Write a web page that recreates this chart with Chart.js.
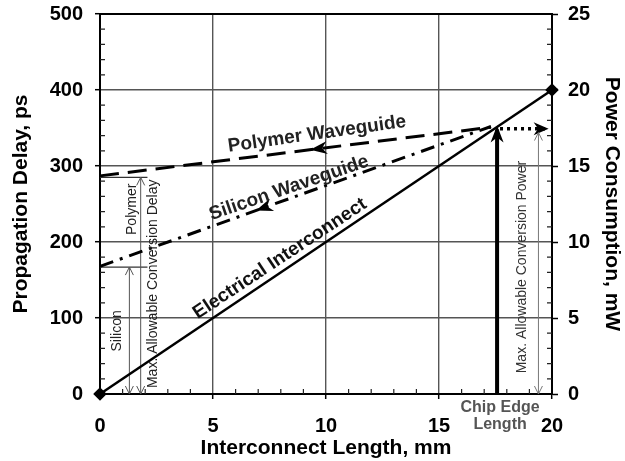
<!DOCTYPE html>
<html><head><meta charset="utf-8">
<script src="https://cdn.jsdelivr.net/npm/chart.js@4.4.0/dist/chart.umd.min.js"></script>
<style>html,body{margin:0;padding:0;background:#fff}#wrap{width:625px;height:461px}</style>
</head><body><div id="wrap"><canvas id="c" width="625" height="461"></canvas></div>
<script>
// ---- data ----
const lengthTicks = [0, 5, 10, 15, 20];          // mm
const delayTicks = [0, 100, 200, 300, 400, 500]; // ps
const powerTicks = [0, 5, 10, 15, 20, 25];       // mW
const electricalX = [0, 20];
const electricalY = [0, 400];
const polymerX = [0, 17.3];
const polymerY = [287, 351];
const siliconX = [0, 17.3];
const siliconY = [168, 352];
const chipEdgeX = [17.57, 17.57];
const chipEdgeY = [0, 348];
const powerLimitX = [17.7, 19.85];
const powerLimitY = [349, 349];
const siliconDelay = 167;    // ps (max allowable conversion delay, silicon)
const polymerDelay = 285;    // ps (polymer)
const maxPowerMW = 17.2;     // mW
const siliconDelayArrowX = 1.3;
const polymerDelayArrowX = 1.8;
const powerArrowX = 19.4;
const delayMarkLen = [0, 2.1];

const FONT = "'Liberation Sans', Arial, sans-serif";

function pts(xs, ys) { return xs.map((x, i) => ({x, y: ys[i]})); }

const lineDefaults = {showLine: true, pointRadius: 0, clip: false, fill: false, borderColor: '#000', tension: 0};

const datasets = [
  Object.assign({}, lineDefaults, {label: 'Electrical', data: pts(electricalX, electricalY), borderWidth: 2.5,
    pointRadius: 5, pointStyle: 'rectRot', pointBackgroundColor: '#000', pointBorderColor: '#000'}),
  Object.assign({}, lineDefaults, {label: 'Polymer', data: pts(polymerX, polymerY), borderWidth: 3, borderDash: [19, 9]}),
  Object.assign({}, lineDefaults, {label: 'Silicon', data: pts(siliconX, siliconY), borderWidth: 3, borderDash: [14, 7, 3, 7]}),
  Object.assign({}, lineDefaults, {label: 'ChipEdge', data: pts(chipEdgeX, chipEdgeY), borderWidth: 4}),
  Object.assign({}, lineDefaults, {label: 'PowerLimit', data: pts(powerLimitX, powerLimitY), borderWidth: 3.5, borderDash: [3, 4]}),
  Object.assign({}, lineDefaults, {label: 'SiDelay', data: pts([siliconDelayArrowX, siliconDelayArrowX], [0, siliconDelay]), borderWidth: 1, borderColor: '#555'}),
  Object.assign({}, lineDefaults, {label: 'PolyDelay', data: pts([polymerDelayArrowX, polymerDelayArrowX], [0, polymerDelay]), borderWidth: 1, borderColor: '#555'}),
  Object.assign({}, lineDefaults, {label: 'SiMark', data: pts(delayMarkLen, [siliconDelay, siliconDelay]), borderWidth: 1.2, borderColor: '#333'}),
  Object.assign({}, lineDefaults, {label: 'PolyMark', data: pts(delayMarkLen, [polymerDelay, polymerDelay]), borderWidth: 1.2, borderColor: '#333'}),
  Object.assign({}, lineDefaults, {label: 'PowerArrow', yAxisID: 'y2', data: pts([powerArrowX, powerArrowX], [0, maxPowerMW]), borderWidth: 1, borderColor: '#777'})
];

const texts = [
  {t: 'Polymer Waveguide', x: 9.6, y: 342, a: -8, f: 'bold 19px ' + FONT, c: '#222'},
  {t: 'Silicon Waveguide', x: 8.36, y: 271, a: -19, f: 'bold 19px ' + FONT, c: '#222'},
  {t: 'Electrical Interconnect', x: 7.96, y: 178, a: -33.5, f: 'bold 19px ' + FONT, c: '#111'},
  {t: 'Silicon', x: 0.75, y: 83, a: -90, f: '14px ' + FONT, c: '#222'},
  {t: 'Polymer', x: 1.42, y: 243, a: -90, f: '14px ' + FONT, c: '#222'},
  {t: 'Max. Allowable Conversion Delay', x: 2.35, y: 145, a: -90, f: '14px ' + FONT, c: '#222'},
  {t: 'Max. Allowable Conversion Power', x: 18.67, y: 167, a: -90, f: '14px ' + FONT, c: '#333'}
];

function filledArrow(ctx, x, y, ang, len, hw) {
  ctx.save(); ctx.translate(x, y); ctx.rotate(ang);
  ctx.beginPath(); ctx.moveTo(0, 0); ctx.lineTo(-len, -hw); ctx.lineTo(-len * 0.7, 0); ctx.lineTo(-len, hw); ctx.closePath();
  ctx.fillStyle = '#000'; ctx.fill(); ctx.restore();
}
function openArrow(ctx, x, y, ang, len, hw, color) {
  ctx.save(); ctx.translate(x, y); ctx.rotate(ang);
  ctx.beginPath(); ctx.moveTo(-len, -hw); ctx.lineTo(0, 0); ctx.lineTo(-len, hw);
  ctx.strokeStyle = color; ctx.lineWidth = 1; ctx.stroke(); ctx.restore();
}

const decor = {
  id: 'decor',
  afterDatasetsDraw(chart) {
    const {ctx, chartArea: ca, scales: {x, y, y2}} = chart;
    ctx.save();
    // top border
    ctx.strokeStyle = '#000'; ctx.lineWidth = 2;
    ctx.beginPath(); ctx.moveTo(ca.left - 1, ca.top); ctx.lineTo(ca.right + 1, ca.top); ctx.stroke();
    // minor ticks
    ctx.lineWidth = 1.2; ctx.strokeStyle = '#222';
    ctx.beginPath();
    for (let v = 1; v < 20; v++) { if (v % 5) { const px = x.getPixelForValue(v); ctx.moveTo(px, ca.bottom); ctx.lineTo(px, ca.bottom - 5); } }
    for (let v = 20; v < 500; v += 20) { if (v % 100) { const py = y.getPixelForValue(v); ctx.moveTo(ca.left, py); ctx.lineTo(ca.left + 5, py); } }
    for (let v = 1; v < 25; v++) { if (v % 5) { const py = y2.getPixelForValue(v); ctx.moveTo(ca.right, py); ctx.lineTo(ca.right - 5, py); } }
    ctx.stroke();
    // arrowheads along waveguide lines (pointing back toward x=0)
    const along = (xs, ys, xv) => {
      const x0 = x.getPixelForValue(xs[0]), y0 = y.getPixelForValue(ys[0]);
      const x1 = x.getPixelForValue(xs[1]), y1 = y.getPixelForValue(ys[1]);
      const t = (xv - xs[0]) / (xs[1] - xs[0]);
      return {px: x0 + t * (x1 - x0), py: y0 + t * (y1 - y0), ang: Math.atan2(y0 - y1, x0 - x1)};
    };
    let a = along(polymerX, polymerY, 9.3);
    filledArrow(ctx, a.px, a.py, a.ang, 17, 6.5);
    a = along(siliconX, siliconY, 6.9);
    filledArrow(ctx, a.px, a.py, a.ang, 17, 6.5);
    // chip edge arrow (up)
    filledArrow(ctx, x.getPixelForValue(chipEdgeX[1]), y.getPixelForValue(chipEdgeY[1]) - 4, -Math.PI / 2, 17, 6.5);
    // power limit arrow (right)
    filledArrow(ctx, x.getPixelForValue(powerLimitX[1]), y.getPixelForValue(powerLimitY[1]), 0, 15, 6.5);
    // thin double arrows
    const dbl = (xv, ytop, scale, color) => {
      const px = x.getPixelForValue(xv);
      openArrow(ctx, px, scale.getPixelForValue(ytop), -Math.PI / 2, 8, 4, color);
      openArrow(ctx, px, scale.getPixelForValue(0), Math.PI / 2, 8, 4, color);
    };
    dbl(siliconDelayArrowX, siliconDelay, y, '#555');
    dbl(polymerDelayArrowX, polymerDelay, y, '#555');
    dbl(powerArrowX, maxPowerMW, y2, '#777');
    // texts
    ctx.textAlign = 'center'; ctx.textBaseline = 'middle';
    for (const o of texts) {
      ctx.save();
      ctx.translate(x.getPixelForValue(o.x), y.getPixelForValue(o.y));
      ctx.rotate(o.a * Math.PI / 180);
      ctx.font = o.f; ctx.fillStyle = o.c;
      ctx.fillText(o.t, 0, 0);
      ctx.restore();
    }
    // chip edge label below axis
    ctx.font = 'bold 16px ' + FONT; ctx.fillStyle = '#555';
    const cx = x.getPixelForValue(chipEdgeX[0]) + 3;
    ctx.fillText('Chip Edge', cx, ca.bottom + 14);
    ctx.fillText('Length', cx, ca.bottom + 31);
    ctx.restore();
  }
};

const tickFont = {family: FONT, size: 20, weight: 'bold'};
const titleFont = {family: FONT, size: 21, weight: 'bold'};

new Chart(document.getElementById('c'), {
  type: 'scatter',
  data: {datasets},
  options: {
    responsive: false, animation: false, devicePixelRatio: 1,
    layout: {padding: {top: 14, left: 0, right: 0, bottom: 0}},
    plugins: {legend: {display: false}, tooltip: {enabled: false}},
    scales: {
      x: {
        type: 'linear', position: 'bottom', min: lengthTicks[0], max: lengthTicks[lengthTicks.length - 1],
        afterBuildTicks(s) { s.ticks = lengthTicks.map(v => ({value: v})); },
        ticks: {font: tickFont, color: '#000', padding: 15, maxRotation: 0},
        grid: {color: '#555', lineWidth: 1.4, tickLength: 5, tickColor: '#000', tickWidth: 1.5},
        border: {color: '#000', width: 2},
        title: {display: true, text: 'Interconnect Length, mm', font: titleFont, color: '#000', padding: {top: 0, bottom: 0}},
        afterFit(s) { s.height = 67; s.paddingLeft = 0; s.paddingRight = 0; }
      },
      y: {
        type: 'linear', position: 'left', min: delayTicks[0], max: delayTicks[delayTicks.length - 1],
        afterBuildTicks(s) { s.ticks = delayTicks.map(v => ({value: v})); },
        ticks: {font: tickFont, color: '#000', padding: 12},
        grid: {color: '#555', lineWidth: 1.4, tickLength: 5, tickColor: '#000', tickWidth: 1.5},
        border: {color: '#000', width: 2},
        title: {display: true, text: 'Propagation Delay, ps', font: titleFont, color: '#000', padding: {top: 9, bottom: 0}},
        afterFit(s) { s.width = 100; s.paddingTop = 0; s.paddingBottom = 0; }
      },
      y2: {
        type: 'linear', position: 'right', min: powerTicks[0], max: powerTicks[powerTicks.length - 1],
        afterBuildTicks(s) { s.ticks = powerTicks.map(v => ({value: v})); },
        ticks: {font: tickFont, color: '#000', padding: 10},
        grid: {drawOnChartArea: false, tickLength: 6, tickColor: '#000', tickWidth: 1.5},
        border: {color: '#000', width: 2},
        title: {display: true, text: 'Power Consumption, mW', font: titleFont, color: '#000', padding: {top: 1, bottom: 0}},
        afterFit(s) { s.width = 73; s.paddingTop = 0; s.paddingBottom = 0; }
      }
    }
  },
  plugins: [decor]
});
</script>
</body></html>
